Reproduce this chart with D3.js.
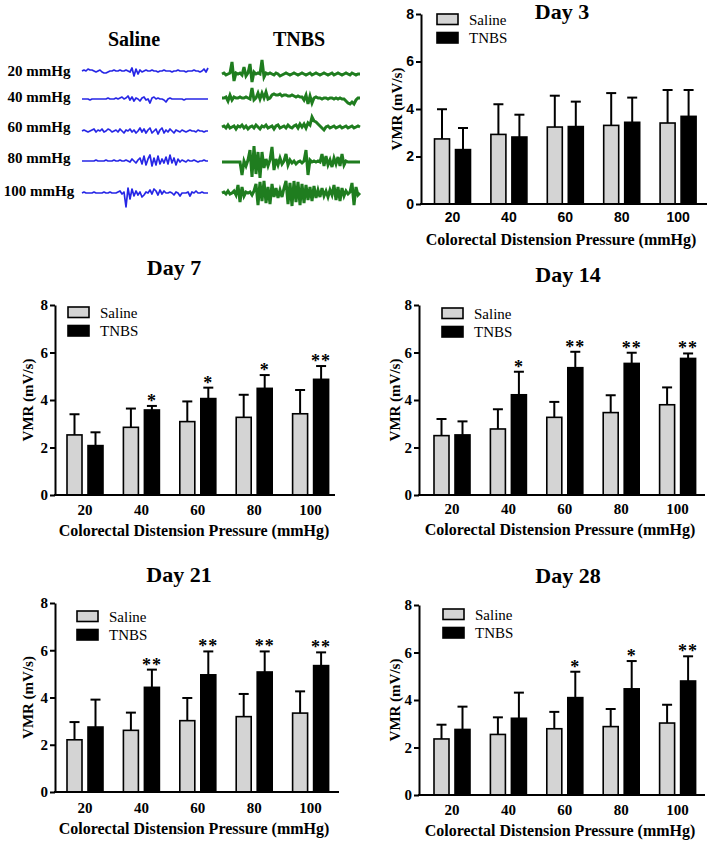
<!DOCTYPE html>
<html><head><meta charset="utf-8">
<script src="https://cdn.jsdelivr.net/npm/d3@7"></script>
<style>
body{margin:0;background:#fff} svg{display:block}
.serif{font-family:"Liberation Serif","Times New Roman",Times,"DejaVu Serif",serif}
.sans{font-family:"Liberation Sans",Arial,Helvetica,sans-serif}
</style>
</head><body><svg id="c" width="709" height="842"></svg>
<script>
// ---------- data ----------
const pressures = [20, 40, 60, 80, 100];
const series = ["Saline", "TNBS"];
const yTicks = [0, 2, 4, 6, 8];
const traceRows = ["20 mmHg", "40 mmHg", "60 mmHg", "80 mmHg", "100 mmHg"];

const day3Saline = [2.74, 2.93, 3.24, 3.31, 3.41];
const day3SalineErr = [1.25, 1.27, 1.32, 1.36, 1.39];
const day3Tnbs = [2.29, 2.82, 3.26, 3.44, 3.69];
const day3TnbsErr = [0.91, 0.94, 1.05, 1.04, 1.11];
const day3Stars = ["", "", "", "", ""];

const day7Saline = [2.53, 2.85, 3.09, 3.27, 3.42];
const day7SalineErr = [0.87, 0.79, 0.85, 0.95, 1.00];
const day7Tnbs = [2.08, 3.58, 4.06, 4.49, 4.87];
const day7TnbsErr = [0.56, 0.17, 0.46, 0.56, 0.56];
const day7Stars = ["", "*", "*", "*", "**"];

const day14Saline = [2.50, 2.78, 3.27, 3.47, 3.80];
const day14SalineErr = [0.70, 0.83, 0.65, 0.73, 0.73];
const day14Tnbs = [2.53, 4.22, 5.36, 5.54, 5.75];
const day14TnbsErr = [0.57, 0.97, 0.67, 0.45, 0.21];
const day14Stars = ["", "*", "**", "**", "**"];

const day21Saline = [2.21, 2.61, 3.02, 3.19, 3.34];
const day21SalineErr = [0.75, 0.75, 0.96, 0.96, 0.92];
const day21Tnbs = [2.75, 4.43, 4.96, 5.08, 5.35];
const day21TnbsErr = [1.16, 0.75, 0.99, 0.87, 0.56];
const day21Stars = ["", "**", "**", "**", "**"];

const day28Saline = [2.36, 2.55, 2.79, 2.88, 3.03];
const day28SalineErr = [0.60, 0.72, 0.71, 0.74, 0.77];
const day28Tnbs = [2.76, 3.23, 4.10, 4.47, 4.80];
const day28TnbsErr = [0.96, 1.08, 1.09, 1.17, 1.04];
const day28Stars = ["", "", "*", "*", "**"];

// EMG traces (deflection in px, hand-read samples)
const salineTrace20 = [0,1,0,2,1,1,0,-1,0,1,-1,-2,-2,-1,0,0,1,0,0,1,0,0,1,0,-1,3,-5,2,-3,1,-1,0,1,0,0,1,0,0,-1,0,0,1,0,0,0,-1,0,0,1,0,0,0,-1,0,0,0,1,0,0,-1,0,2,-1,3];
const salineTrace40 = [0,0,0,0,-1,0,0,0,0,0,0,0,0,1,0,0,0,1,0,1,2,0,1,3,-1,2,-2,1,0,-2,1,2,-1,0,-4,1,2,0,1,0,0,-1,-3,0,1,0,0,0,0,0,0,-1,0,0,0,0,0,0,0,0,0,0,0,0];
const salineTrace60 = [0,1,0,-1,0,1,2,-1,1,0,2,-1,0,2,1,-1,0,1,-1,2,0,-2,1,0,2,-1,1,-2,0,3,-1,2,-2,1,3,-2,0,2,-3,1,3,-2,1,-1,2,0,-2,1,0,-1,1,0,-1,0,1,0,0,-1,1,0,0,-1,0,0];
const salineTrace80 = [0,0,0,0,0,0,0,1,0,0,0,0,1,0,0,0,1,0,0,1,0,0,1,0,-1,2,0,-2,1,3,-3,5,-4,2,6,-5,3,-4,5,-3,2,-2,4,-3,6,-2,3,-4,2,-1,1,0,-1,1,0,0,1,0,-1,0,0,1,0,0];
const salineTrace100 = [0,1,0,0,0,0,1,0,0,0,0,1,0,0,1,0,0,0,1,2,-1,1,-14,5,-6,4,-3,2,-2,1,-4,-2,1,0,3,-1,4,2,-2,3,-1,2,0,0,1,0,-2,1,0,-3,0,0,0,1,-3,1,0,2,0,0,1,0,0,0];
const tnbsTrace20 = [0,1,-1,0,1,12,-7,1,0,1,-1,7,-2,1,10,-8,2,0,1,0,14,-3,1,0,1,0,-1,1,0,-2,-1,0,1,0,-1,0,1,0,-1,0,1,0,-1,0,1,-1,0,1,0,-1,0,1,0,-1,0,1,-1,0,1,0,-1,0,1,0,-1,1,0,-1,0,0];
const tnbsTrace40 = [0,0,1,-3,3,-2,1,0,0,1,0,0,1,0,-1,10,-2,0,5,-1,5,0,6,-1,0,3,4,3,3,4,2,3,3,2,2,3,2,1,2,1,1,-2,3,-6,2,-5,0,1,0,0,-1,0,0,-1,0,0,-1,0,-1,0,-1,-1,-3,-5,-6,-4,-6,-2,0,0];
const tnbsTrace60 = [0,1,-1,2,-1,0,1,-2,1,0,2,-1,1,-2,0,1,-1,2,0,-2,1,0,2,-1,0,1,-2,1,2,-1,0,1,-1,2,0,-1,1,2,-1,3,0,3,-1,4,2,10,6,5,3,1,-1,-3,0,1,-1,0,1,-1,0,1,-1,0,1,-1,0,1,-1,0,1,0];
const tnbsTrace80 = [0,0,0,0,0,0,0,0,0,0,-13,1,-4,2,12,-15,16,-12,10,-16,10,-6,3,-4,2,15,-8,3,-3,4,-2,1,8,-3,2,-1,1,-2,0,1,-1,1,12,-13,2,0,1,0,1,0,8,-4,6,-3,2,-5,4,-2,5,-4,8,-3,1,0,0,0,0,0,0,0];
const tnbsTrace100 = [0,1,-1,2,-1,0,2,-2,8,-9,6,-3,1,0,1,-2,2,9,-12,11,-8,12,-10,6,-11,9,-4,5,-5,3,-4,5,12,-11,10,-13,12,-9,11,-12,9,-10,8,-7,6,-8,7,-5,3,-4,5,-3,2,-4,3,-2,8,-7,6,-8,5,-3,2,-1,1,10,-12,6,-2,0];

// ---------- drawing ----------
const svg = d3.select("#c");
const SALINE_FILL = "#d4d4d4";

svg.append("text").attr("class", "serif").attr("x", 134).attr("y", 46).attr("text-anchor", "middle")
  .attr("font-weight", "bold").attr("font-size", 20).text("Saline");
svg.append("text").attr("class", "serif").attr("x", 299).attr("y", 46).attr("text-anchor", "middle")
  .attr("font-weight", "bold").attr("font-size", 20).text("TNBS");

const rowLabelY = [76, 102, 132, 163, 196];
const salineRowY = [71, 99, 131, 161, 193];
const tnbsRowY = [74, 98, 127, 162, 193];
const salineTraces = [salineTrace20, salineTrace40, salineTrace60, salineTrace80, salineTrace100];
const tnbsTraces = [tnbsTrace20, tnbsTrace40, tnbsTrace60, tnbsTrace80, tnbsTrace100];

traceRows.forEach((lab, i) => {
  svg.append("text").attr("class", "serif").attr("x", 39).attr("y", rowLabelY[i]).attr("text-anchor", "middle")
    .attr("font-weight", "bold").attr("font-size", 15).text(lab);
  const s = salineTraces[i];
  const xs = d3.scaleLinear().domain([0, s.length - 1]).range([82, 208]);
  svg.append("path").attr("fill", "none").attr("stroke", "#2626e6").attr("stroke-width", 1.7)
    .attr("stroke-linejoin", "round")
    .attr("d", d3.line().x((d, j) => xs(j)).y(d => salineRowY[i] - d)(s));
  const t = tnbsTraces[i];
  const xt = d3.scaleLinear().domain([0, t.length - 1]).range([222, 360]);
  svg.append("path").attr("fill", "none").attr("stroke", "#1f7d1f").attr("stroke-width", 3)
    .attr("d", d3.line().x((d, j) => xt(j)).y(d => tnbsRowY[i] - d)(t));
});

const panels = [
  {title: "Day 3", s: day3Saline, se: day3SalineErr, t: day3Tnbs, te: day3TnbsErr, stars: day3Stars,
   ax: 421, c0: 452.5, xEnd: 707, yTop: 14, yBot: 204, titleX: 562, titleY: 19, tickCls: "sans", tickSize: 14,
   xPad: 8, labelX: 561, labelY: 245, yLabX: 402, legX: 437, legY: 14},
  {title: "Day 7", s: day7Saline, se: day7SalineErr, t: day7Tnbs, te: day7TnbsErr, stars: day7Stars,
   ax: 55, c0: 85, xEnd: 335, yTop: 305, yBot: 495, titleX: 174, titleY: 275, tickCls: "serif", tickSize: 15,
   xPad: 9, labelX: 194, labelY: 536, yLabX: 33, legX: 68, legY: 307},
  {title: "Day 14", s: day14Saline, se: day14SalineErr, t: day14Tnbs, te: day14TnbsErr, stars: day14Stars,
   ax: 419, c0: 452, xEnd: 705, yTop: 305, yBot: 495, titleX: 568, titleY: 282, tickCls: "serif", tickSize: 15,
   xPad: 8, labelX: 560, labelY: 535, yLabX: 400, legX: 442, legY: 308},
  {title: "Day 21", s: day21Saline, se: day21SalineErr, t: day21Tnbs, te: day21TnbsErr, stars: day21Stars,
   ax: 55, c0: 85, xEnd: 339, yTop: 603, yBot: 792, titleX: 179, titleY: 582, tickCls: "serif", tickSize: 15,
   xPad: 10, labelX: 194, labelY: 834, yLabX: 33, legX: 77, legY: 611},
  {title: "Day 28", s: day28Saline, se: day28SalineErr, t: day28Tnbs, te: day28TnbsErr, stars: day28Stars,
   ax: 419, c0: 452, xEnd: 705, yTop: 605, yBot: 795, titleX: 568, titleY: 583, tickCls: "serif", tickSize: 15,
   xPad: 9, labelX: 560, labelY: 836, yLabX: 400, legX: 443, legY: 609}
];

const STEP = 56.4;

panels.forEach(p => {
  const g = svg.append("g");
  const y = d3.scaleLinear().domain([0, 8]).range([p.yBot, p.yTop]);
  const x = d3.scaleBand().domain(pressures)
    .range([p.c0 - STEP / 2, p.c0 - STEP / 2 + STEP * pressures.length]).paddingInner(0).paddingOuter(0);
  const bw = x.bandwidth();
  const xs = d3.scaleBand().domain(series).range([bw / 2 - 18, bw / 2 + 18]).paddingInner(2 - 36 / 21);

  const rows = pressures.map((pr, i) => [
    {pr, ser: "Saline", m: p.s[i], e: p.se[i], star: ""},
    {pr, ser: "TNBS", m: p.t[i], e: p.te[i], star: p.stars[i]}
  ]).flat();

  g.selectAll("rect.bar").data(rows).join("rect")
    .attr("x", d => x(d.pr) + xs(d.ser))
    .attr("width", xs.bandwidth())
    .attr("y", d => y(d.m))
    .attr("height", d => y(0) - y(d.m))
    .attr("fill", d => d.ser === "Saline" ? SALINE_FILL : "#000")
    .attr("stroke", "#000").attr("stroke-width", 1.6);

  const cx = d => x(d.pr) + xs(d.ser) + xs.bandwidth() / 2;
  g.selectAll("line.err").data(rows).join("line")
    .attr("x1", cx).attr("x2", cx)
    .attr("y1", d => y(d.m)).attr("y2", d => y(d.m + d.e))
    .attr("stroke", "#000").attr("stroke-width", 2);
  g.selectAll("line.cap").data(rows).join("line")
    .attr("x1", d => cx(d) - 5).attr("x2", d => cx(d) + 5)
    .attr("y1", d => y(d.m + d.e)).attr("y2", d => y(d.m + d.e))
    .attr("stroke", "#000").attr("stroke-width", 2);

  g.selectAll("text.star").data(rows.filter(d => d.star)).join("text")
    .attr("class", "serif")
    .attr("x", cx).attr("y", d => y(d.m + d.e) + 1)
    .attr("text-anchor", "middle")
    .attr("font-weight", "bold").attr("font-size", 18)
    .attr("letter-spacing", 1)
    .text(d => d.star);

  const ya = g.append("g").attr("transform", `translate(${p.ax},0)`)
    .call(d3.axisLeft(y).tickValues(yTicks).tickSize(5).tickSizeOuter(0).tickPadding(2));
  ya.attr("font-family", null);
  ya.select(".domain").attr("stroke-width", 2);
  ya.selectAll(".tick line").attr("stroke-width", 2);
  ya.selectAll(".tick text").attr("class", p.tickCls).attr("font-weight", "bold")
    .attr("font-size", p.tickSize).attr("fill", "#000");

  g.append("line").attr("x1", p.ax - 1).attr("x2", p.xEnd)
    .attr("y1", y(0)).attr("y2", y(0)).attr("stroke", "#000").attr("stroke-width", 2);
  const xa = g.append("g").attr("transform", `translate(0,${y(0)})`)
    .call(d3.axisBottom(x).tickSize(0).tickPadding(p.xPad));
  xa.attr("font-family", null);
  xa.select(".domain").remove();
  xa.selectAll(".tick text").attr("class", p.tickCls).attr("font-weight", "bold")
    .attr("font-size", p.tickSize).attr("fill", "#000");

  g.append("text").attr("class", "serif").attr("x", p.titleX).attr("y", p.titleY).attr("text-anchor", "middle")
    .attr("font-weight", "bold").attr("font-size", 22).text(p.title);
  g.append("text").attr("class", "serif").attr("x", p.labelX).attr("y", p.labelY).attr("text-anchor", "middle")
    .attr("font-weight", "bold").attr("font-size", 16)
    .text("Colorectal Distension Pressure (mmHg)");
  g.append("text").attr("class", "serif")
    .attr("transform", `translate(${p.yLabX},${(p.yTop + p.yBot) / 2}) rotate(-90)`)
    .attr("text-anchor", "middle")
    .attr("font-weight", "bold").attr("font-size", 15)
    .text("VMR (mV/s)");

  series.forEach((s, i) => {
    g.append("rect").attr("x", p.legX).attr("y", p.legY + i * 18.5).attr("width", 21).attr("height", 10.5)
      .attr("fill", s === "Saline" ? SALINE_FILL : "#000").attr("stroke", "#000").attr("stroke-width", 1.6);
    g.append("text").attr("class", "serif").attr("x", p.legX + 32).attr("y", p.legY + i * 18.5 + 10.5)
      .attr("font-size", 15).text(s);
  });
});
</script></body></html>
